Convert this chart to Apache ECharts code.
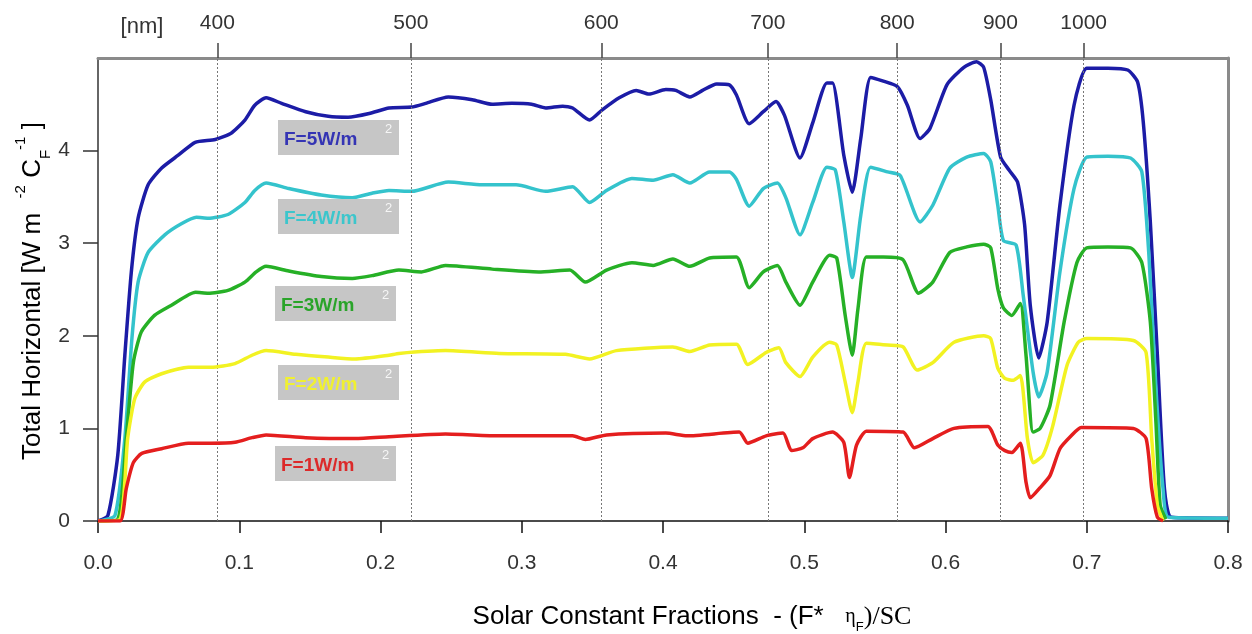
<!DOCTYPE html>
<html>
<head>
<meta charset="utf-8">
<script src="https://cdn.jsdelivr.net/npm/echarts@6/dist/echarts.min.js"></script>
<style>
  html, body { margin: 0; padding: 0; background: #fff; }
  #chart { width: 1252px; height: 634px; }
</style>
</head>
<body>
<div id="chart"></div>
<script>
// spectrum curves, [solar constant fraction, W m-2]
const f5 = [[0,0],[0.007,0.06],[0.014,0.71],[0.019,1.79],[0.0236,2.69],[0.0284,3.27],[0.0355,3.63],[0.0449,3.81],[0.0568,3.95],[0.0688,4.09],[0.083,4.12],[0.0945,4.19],[0.104,4.33],[0.111,4.49],[0.119,4.57],[0.130,4.51],[0.147,4.42],[0.163,4.37],[0.177,4.36],[0.192,4.40],[0.206,4.46],[0.222,4.47],[0.232,4.51],[0.248,4.58],[0.265,4.55],[0.279,4.50],[0.293,4.51],[0.307,4.50],[0.317,4.46],[0.329,4.48],[0.336,4.46],[0.348,4.33],[0.357,4.44],[0.369,4.57],[0.381,4.65],[0.390,4.61],[0.402,4.66],[0.409,4.65],[0.419,4.58],[0.428,4.65],[0.438,4.72],[0.447,4.71],[0.452,4.60],[0.461,4.29],[0.471,4.42],[0.480,4.53],[0.486,4.38],[0.497,3.92],[0.506,4.30],[0.516,4.73],[0.520,4.73],[0.528,3.95],[0.534,3.55],[0.540,4.13],[0.547,4.79],[0.556,4.75],[0.566,4.69],[0.573,4.49],[0.582,4.13],[0.589,4.24],[0.601,4.71],[0.613,4.90],[0.622,4.96],[0.627,4.90],[0.632,4.55],[0.639,3.93],[0.645,3.79],[0.651,3.66],[0.656,3.20],[0.660,2.33],[0.666,1.76],[0.672,2.15],[0.681,3.41],[0.691,4.49],[0.700,4.89],[0.715,4.89],[0.729,4.87],[0.736,4.74],[0.740,4.31],[0.745,3.23],[0.750,1.79],[0.755,0.35],[0.760,0.04],[0.8,0.03]];
const f4 = [[0,0],[0.012,0.06],[0.019,0.89],[0.024,1.97],[0.0284,2.58],[0.0355,2.90],[0.0473,3.09],[0.059,3.21],[0.0697,3.28],[0.078,3.27],[0.092,3.31],[0.104,3.44],[0.111,3.57],[0.119,3.65],[0.135,3.59],[0.158,3.52],[0.180,3.49],[0.194,3.54],[0.206,3.57],[0.222,3.56],[0.248,3.66],[0.272,3.63],[0.296,3.63],[0.317,3.56],[0.336,3.61],[0.348,3.44],[0.360,3.57],[0.378,3.70],[0.393,3.68],[0.407,3.74],[0.419,3.65],[0.433,3.77],[0.447,3.77],[0.452,3.69],[0.461,3.40],[0.471,3.59],[0.481,3.65],[0.487,3.49],[0.497,3.09],[0.506,3.44],[0.516,3.82],[0.522,3.79],[0.528,3.23],[0.534,2.63],[0.540,3.30],[0.547,3.82],[0.559,3.77],[0.568,3.73],[0.582,3.23],[0.591,3.41],[0.603,3.81],[0.615,3.93],[0.627,3.97],[0.632,3.88],[0.637,3.41],[0.641,3.03],[0.650,2.98],[0.655,2.44],[0.662,1.61],[0.666,1.34],[0.672,1.61],[0.681,2.69],[0.691,3.59],[0.700,3.93],[0.715,3.94],[0.731,3.92],[0.739,3.77],[0.744,2.87],[0.749,1.43],[0.754,0.35],[0.758,0.04],[0.8,0.03]];
const f3 = [[0,0],[0.014,0.02],[0.020,0.89],[0.025,1.71],[0.0306,2.04],[0.040,2.22],[0.052,2.33],[0.069,2.47],[0.078,2.46],[0.092,2.49],[0.104,2.58],[0.112,2.69],[0.119,2.75],[0.135,2.70],[0.158,2.64],[0.180,2.62],[0.194,2.65],[0.213,2.71],[0.229,2.69],[0.246,2.76],[0.279,2.72],[0.312,2.69],[0.334,2.71],[0.345,2.58],[0.360,2.71],[0.378,2.79],[0.393,2.76],[0.407,2.83],[0.419,2.75],[0.433,2.84],[0.452,2.85],[0.461,2.52],[0.471,2.69],[0.481,2.76],[0.487,2.58],[0.497,2.33],[0.506,2.58],[0.518,2.87],[0.523,2.84],[0.529,2.22],[0.534,1.79],[0.538,2.29],[0.544,2.85],[0.556,2.85],[0.570,2.82],[0.581,2.46],[0.591,2.58],[0.603,2.90],[0.615,2.96],[0.627,2.99],[0.632,2.95],[0.637,2.51],[0.641,2.30],[0.647,2.22],[0.653,2.35],[0.657,1.79],[0.662,0.96],[0.667,1.00],[0.674,1.25],[0.684,2.15],[0.693,2.79],[0.700,2.95],[0.715,2.96],[0.731,2.95],[0.739,2.79],[0.745,2.15],[0.749,1.06],[0.752,0.17],[0.756,0.02]];
const f2 = [[0,0],[0.0156,0.02],[0.021,0.89],[0.026,1.32],[0.033,1.50],[0.045,1.59],[0.064,1.66],[0.080,1.66],[0.097,1.70],[0.109,1.79],[0.119,1.84],[0.140,1.80],[0.163,1.77],[0.182,1.75],[0.206,1.79],[0.213,1.81],[0.246,1.84],[0.284,1.81],[0.331,1.80],[0.348,1.75],[0.367,1.84],[0.407,1.88],[0.419,1.83],[0.433,1.90],[0.452,1.91],[0.460,1.69],[0.473,1.82],[0.482,1.87],[0.487,1.71],[0.497,1.56],[0.506,1.77],[0.518,1.93],[0.523,1.90],[0.529,1.50],[0.534,1.17],[0.538,1.50],[0.544,1.92],[0.559,1.90],[0.570,1.88],[0.580,1.63],[0.591,1.71],[0.606,1.93],[0.627,2.00],[0.632,1.97],[0.637,1.65],[0.642,1.54],[0.648,1.52],[0.653,1.57],[0.658,0.89],[0.662,0.63],[0.669,0.71],[0.676,1.03],[0.686,1.68],[0.694,1.93],[0.700,1.97],[0.733,1.95],[0.742,1.82],[0.746,0.89],[0.750,0.17],[0.754,0]];
const f1 = [[0,0],[0.0156,0],[0.020,0.35],[0.025,0.63],[0.031,0.73],[0.045,0.78],[0.064,0.84],[0.080,0.84],[0.097,0.85],[0.109,0.90],[0.119,0.93],[0.147,0.90],[0.182,0.89],[0.206,0.91],[0.246,0.94],[0.284,0.92],[0.336,0.92],[0.345,0.88],[0.360,0.93],[0.402,0.95],[0.417,0.92],[0.454,0.96],[0.460,0.84],[0.473,0.92],[0.485,0.95],[0.491,0.76],[0.499,0.79],[0.506,0.89],[0.520,0.96],[0.528,0.85],[0.532,0.47],[0.537,0.82],[0.544,0.97],[0.570,0.96],[0.578,0.79],[0.591,0.89],[0.606,1.00],[0.630,1.02],[0.637,0.82],[0.642,0.76],[0.647,0.74],[0.653,0.84],[0.657,0.42],[0.660,0.25],[0.667,0.36],[0.674,0.49],[0.681,0.78],[0.689,0.92],[0.696,1.01],[0.733,1.00],[0.742,0.89],[0.746,0.35],[0.750,0.04],[0.754,0]];

// top wavelength axis
const nmPos = [0.0845, 0.2215, 0.3563, 0.4742, 0.5658, 0.6389, 0.6978];
const nmLabels = ['400', '500', '600', '700', '800', '900', '1000'];

const seriesNames = ['F=5W/m2', 'F=4W/m2', 'F=3W/m2', 'F=2W/m2', 'F=1W/m2'];
const seriesData = [f5, f4, f3, f2, f1];
const lineColors = ['#1c1ca6', '#34c3cc', '#26b026', '#f2f222', '#e41e1e'];
const textColors = ['#3434b4', '#3cc6cc', '#2aa42a', '#f0f030', '#dc2a2a'];
const boxTops = [120, 199, 286, 365, 446];

const FONT = '"Liberation Sans", Arial, sans-serif';
const SERIF = '"Liberation Serif", "Times New Roman", serif';

const chart = echarts.init(document.getElementById('chart'));

const series = seriesData.map((d, i) => ({
  name: seriesNames[i],
  type: 'line',
  data: d,
  showSymbol: false,
  smooth: 0.2,
  z: 3 + i,
  lineStyle: { color: lineColors[i], width: 3.5, join: 'round' }
}));

// dotted wavelength guides, kept under the curves
series.unshift({
  type: 'line',
  data: [],
  z: 1,
  silent: true,
  markLine: {
    symbol: 'none',
    silent: true,
    precision: 5,
    label: { show: false },
    lineStyle: { color: '#777', type: [2, 2], width: 1 },
    data: nmPos.map(v => ({ xAxis: v }))
  }
});

const labelBoxes = [];
boxTops.forEach((top, i) => {
  const left = i === 2 || i === 4 ? 275 : 278;
  labelBoxes.push({
    type: 'rect',
    shape: { x: left, y: top, width: 121, height: 35 },
    style: { fill: '#c6c6c6' },
    z: 20
  });
  labelBoxes.push({
    type: 'text',
    x: left + 6, y: top + 20,
    style: {
      text: 'F=' + (5 - i) + 'W/m',
      font: 'bold 19px ' + FONT,
      fill: textColors[i],
      verticalAlign: 'middle'
    },
    z: 21
  });
  labelBoxes.push({
    type: 'text',
    x: left + 107, y: top + 9,
    style: {
      text: '2',
      font: '13px ' + FONT,
      fill: '#f6f6f6',
      verticalAlign: 'middle'
    },
    z: 21
  });
});

const option = {
  animation: false,
  backgroundColor: '#fff',
  grid: { left: 98, right: 24, top: 58, bottom: 113 },
  xAxis: [
    {
      type: 'value',
      min: 0, max: 0.8, interval: 0.1,
      position: 'bottom',
      axisLine: { onZero: false, lineStyle: { color: '#111', width: 1.5 } },
      axisTick: { length: 12, lineStyle: { color: '#111', width: 1.5 } },
      axisLabel: {
        margin: 32,
        fontSize: 21,
        fontFamily: FONT,
        color: '#333',
        formatter: v => v.toFixed(1)
      },
      splitLine: { show: false }
    },
    {
      type: 'value',
      min: 0, max: 0.8,
      position: 'top',
      axisLine: { onZero: false, lineStyle: { color: '#8a8a8a', width: 3 } },
      axisTick: {
        customValues: nmPos,
        length: 15,
        lineStyle: { color: '#444', width: 1.5 }
      },
      axisLabel: {
        customValues: nmPos,
        margin: 24,
        fontSize: 21,
        fontFamily: FONT,
        color: '#333',
        formatter: v => {
          const k = nmPos.findIndex(p => Math.abs(p - v) < 1e-6);
          return k >= 0 ? nmLabels[k] : '';
        }
      },
      splitLine: { show: false }
    }
  ],
  yAxis: [
    {
      type: 'value',
      min: 0, max: 5, interval: 1,
      axisLine: { show: true, onZero: false, lineStyle: { color: '#333', width: 1.5 } },
      axisTick: {
        show: true,
        customValues: [0, 1, 2, 3, 4],
        length: 15,
        lineStyle: { color: '#333', width: 1.5 }
      },
      axisLabel: {
        customValues: [0, 1, 2, 3, 4],
        margin: 28,
        fontSize: 21,
        fontFamily: FONT,
        color: '#333'
      },
      splitLine: { show: false }
    },
    {
      type: 'value',
      min: 0, max: 5,
      position: 'right',
      axisLine: { show: true, onZero: false, lineStyle: { color: '#8a8a8a', width: 3 } },
      axisTick: { show: false },
      axisLabel: { show: false },
      splitLine: { show: false }
    }
  ],
  series: series,
  graphic: [
    {
      type: 'text',
      x: 142, y: 27,
      style: {
        text: '[nm]',
        font: '22px ' + FONT,
        fill: '#333',
        align: 'center',
        verticalAlign: 'middle'
      }
    },
    {
      type: 'text',
      x: 33, y: 291,
      rotation: Math.PI / 2,
      style: {
        text: '{m|Total Horizontal [W m  }{sup|-2}{m| C}{sub|F}{sup|-1}{m| ]}',
        align: 'center',
        verticalAlign: 'middle',
        rich: {
          m: { fontSize: 26, fontFamily: FONT, color: '#333', lineHeight: 40, verticalAlign: 'middle' },
          sup: { fontSize: 15, fontFamily: FONT, color: '#333', lineHeight: 40, verticalAlign: 'top' },
          sub: { fontSize: 15, fontFamily: FONT, color: '#333', lineHeight: 40, verticalAlign: 'bottom' }
        }
      }
    },
    {
      type: 'text',
      x: 692, y: 617,
      style: {
        text: '{a|Solar Constant Fractions  - (F*   }{eta|η}{sub|F}{b|)/SC}',
        align: 'center',
        verticalAlign: 'middle',
        rich: {
          a: { fontSize: 26, fontFamily: FONT, color: '#333', lineHeight: 34 },
          eta: { fontSize: 20, fontFamily: SERIF, color: '#333', lineHeight: 34 },
          sub: { fontSize: 13, fontFamily: FONT, color: '#333', lineHeight: 34, verticalAlign: 'bottom' },
          b: { fontSize: 26, fontFamily: SERIF, color: '#333', lineHeight: 34 }
        }
      }
    }
  ].concat(labelBoxes)
};

chart.setOption(option);
</script>
</body>
</html>
